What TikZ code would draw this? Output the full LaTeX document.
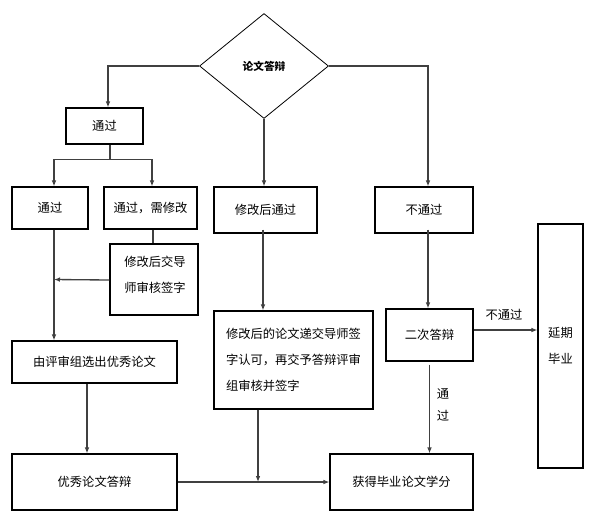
\documentclass[tikz,border=0pt]{standalone}
\usepackage{fontspec}
\setmainfont{Noto Sans CJK SC}
\usetikzlibrary{shapes.geometric,arrows.meta,calc}
\begin{document}
\begin{tikzpicture}[x=0.75pt,y=-0.75pt,
  box/.style={draw=black,line width=0.8pt,inner sep=0pt,font=\fontsize{9.2pt}{19.5pt}\selectfont},
  arr/.style={draw=black!75,line width=1pt,-{Latex[length=4.5pt,width=3.5pt]}},
  ln/.style={draw=black!75,line width=1pt},
  lab/.style={font=\fontsize{9.2pt}{12pt}\selectfont,inner sep=0pt}]
\useasboundingbox (0,0) rectangle (596,519);
\node[draw=black,line width=0.6pt,diamond,aspect=1.23,minimum width=129*0.75pt,minimum height=105*0.75pt,inner sep=0pt,font=\bfseries\fontsize{8pt}{10pt}\selectfont] (d) at (264,66) {论文答辩};
\node[box,minimum width=77*0.75pt,minimum height=36*0.75pt] (n1) at (104.5,126) {通过};
\node[box,minimum width=76*0.75pt,minimum height=42*0.75pt] (n2) at (50,208) {通过};
\node[box,minimum width=93*0.75pt,minimum height=42*0.75pt] (n3) at (150.5,208) {通过，需修改};
\node[box,minimum width=103*0.75pt,minimum height=46*0.75pt] (n4) at (265.5,210) {修改后通过};
\node[box,minimum width=98*0.75pt,minimum height=46*0.75pt] (n5) at (424,210) {不通过};
\node[box,minimum width=45*0.75pt,minimum height=244*0.75pt,align=center] (n6) at (560.5,346) {延期\\毕业};
\node[box,minimum width=88*0.75pt,minimum height=71*0.75pt] (n7) at (154,279.5) {};
\node[lab,font=\fontsize{9.2pt}{19.5pt}\selectfont,align=left] (t7) at (155,275) {修改后交导\\师审核签字};
\node[box,minimum width=165*0.75pt,minimum height=42*0.75pt] (n8) at (94.5,362) {由评审组选出优秀论文};
\node[box,minimum width=159*0.75pt,minimum height=98*0.75pt,align=left] (n9) at (293.5,360) {修改后的论文递交导师签\\字认可，再交予答辩评审\\组审核并签字};
\node[box,minimum width=87*0.75pt,minimum height=52*0.75pt] (n10) at (429.5,335) {二次答辩};
\node[box,minimum width=165*0.75pt,minimum height=56*0.75pt] (n11) at (94.5,482) {优秀论文答辩};
\node[box,minimum width=143*0.75pt,minimum height=56*0.75pt] (n12) at (401.5,482) {获得毕业论文学分};
% connectors
\draw[arr] (d.west) -| ([xshift=3.5*0.75pt]n1.north);
\coordinate (j1) at ([xshift=5.5*0.75pt,yshift=-15*0.75pt]n1.south);
\draw[ln] ([xshift=5.5*0.75pt]n1.south) -- (j1);
\draw[arr] (j1) -| ([xshift=4*0.75pt]n2.north);
\draw[arr] (j1) -| ([xshift=1.5*0.75pt]n3.north);
\draw[ln] ([xshift=2.5*0.75pt]n3.south) -- ([xshift=-1*0.75pt]n7.north);
\draw[arr] ([yshift=-0.5*0.75pt]n7.west) -- ([xshift=4*0.75pt]n2.south |- n7.west);
\draw[arr] ([xshift=4*0.75pt]n2.south) -- ([xshift=4*0.75pt]n2.south |- n8.north);
\draw[arr] ([xshift=-7.5*0.75pt]n8.south) -- ([xshift=-7.5*0.75pt]n11.north);
\draw[arr] (n11.east) -- (n12.west);
\coordinate (m9) at ([xshift=-35.5*0.75pt]n9.south |- n11.east);
\draw[arr] ([xshift=-35.5*0.75pt]n9.south) -- (m9);
\draw[arr] (d.south) -- (d.south |- n4.north);
\draw[arr] ([xshift=-2.5*0.75pt,yshift=4*0.75pt]n4.south) -- ([xshift=-2.5*0.75pt]n4.south |- n9.north);
\draw[arr] (d.east) -| ([xshift=4*0.75pt]n5.north);
\draw[arr] ([xshift=4*0.75pt,yshift=4*0.75pt]n5.south) -- ([xshift=4*0.75pt]n5.south |- n10.north);
\draw[arr] ([yshift=5*0.75pt]n10.east) -- ([yshift=5*0.75pt]n10.east -| n6.west);
\node[lab] (l1) at (504,315) {不通过};
\draw[arr] ([yshift=-3*0.75pt]n10.south) -- (n10.south |- n12.north);
\node[lab,align=center,font=\fontsize{9.2pt}{16pt}\selectfont] (l2) at (443,405) {通\\过};
\end{tikzpicture}
\end{document}
